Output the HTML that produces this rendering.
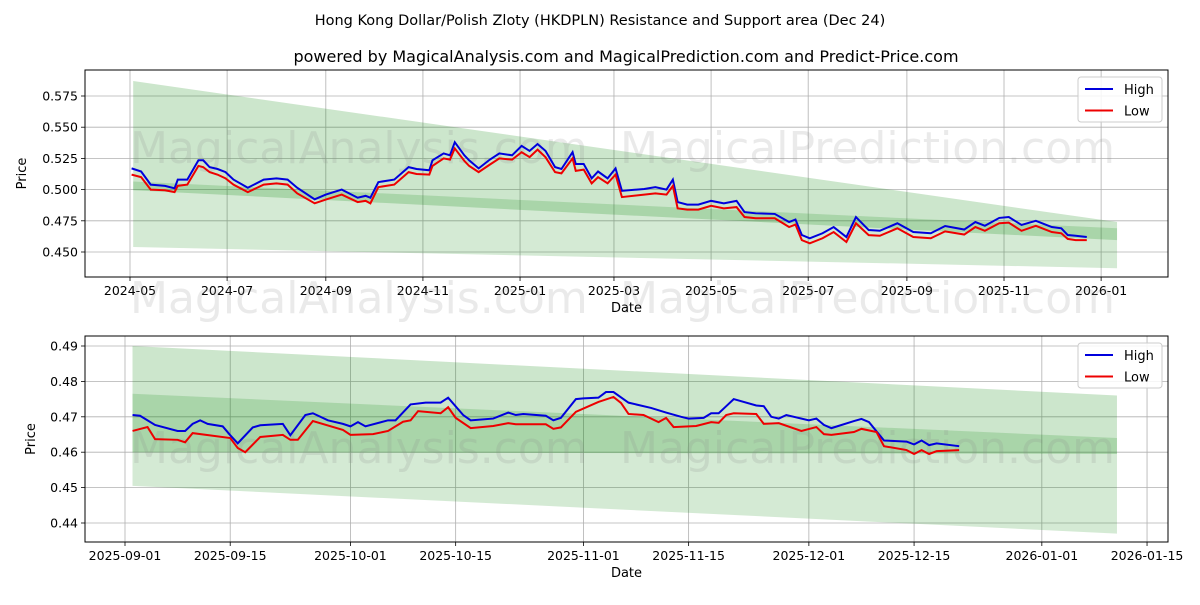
<!DOCTYPE html>
<html><head><meta charset="utf-8"><style>
body{margin:0;background:#fff}
svg text{font-family:"DejaVu Sans","Liberation Sans",sans-serif}
</style></head><body>
<svg id="c" width="1200" height="600" xmlns="http://www.w3.org/2000/svg">
<rect width="1200" height="600" fill="#fff"/>
<text x="600" y="25" text-anchor="middle" font-size="14.5">Hong Kong Dollar/Polish Zloty (HKDPLN) Resistance and Support area (Dec 24)</text>
<text x="626" y="62" text-anchor="middle" font-size="16">powered by MagicalAnalysis.com and MagicalPrediction.com and Predict-Price.com</text>
</svg>
<script>
// ---- top chart data (day offsets from 2024-05-01) ----
const topDays=[1,7,13,22,28,30,36,43,46,50,55,60,65,74,84,92,99,105,116,123,133,143,148,151,156,166,175,180,188,190,197,201,204,210,213,219,226,232,240,246,251,256,261,267,271,278,280,285,290,294,300,305,309,323,330,337,341,344,350,357,365,373,381,386,393,405,414,418,422,427,435,442,450,456,464,471,482,492,503,512,524,531,537,546,552,560,569,579,585,589,594,601];
const topHigh=[0.517,0.5145,0.504,0.503,0.501,0.508,0.508,0.5235,0.5235,0.518,0.5165,0.514,0.508,0.5015,0.508,0.509,0.508,0.5015,0.4922,0.496,0.500,0.4935,0.495,0.4935,0.506,0.508,0.518,0.5165,0.5155,0.5235,0.529,0.5275,0.538,0.5275,0.5235,0.517,0.524,0.529,0.5275,0.535,0.531,0.5365,0.531,0.518,0.5165,0.530,0.5205,0.5205,0.509,0.5145,0.509,0.517,0.499,0.5005,0.502,0.500,0.508,0.490,0.488,0.488,0.491,0.489,0.491,0.482,0.481,0.4805,0.474,0.476,0.4636,0.461,0.465,0.470,0.462,0.478,0.4676,0.467,0.473,0.466,0.465,0.4708,0.468,0.474,0.471,0.4773,0.478,0.4717,0.475,0.470,0.469,0.4636,0.463,0.462];
const topLow=[0.512,0.510,0.500,0.4995,0.498,0.503,0.504,0.519,0.518,0.514,0.512,0.509,0.504,0.498,0.504,0.505,0.504,0.497,0.489,0.492,0.496,0.490,0.491,0.489,0.502,0.504,0.514,0.5125,0.512,0.519,0.525,0.524,0.533,0.523,0.519,0.514,0.520,0.525,0.524,0.530,0.526,0.532,0.526,0.514,0.513,0.525,0.515,0.516,0.505,0.510,0.505,0.512,0.494,0.496,0.497,0.496,0.503,0.485,0.484,0.484,0.487,0.485,0.486,0.478,0.477,0.477,0.470,0.472,0.4595,0.457,0.461,0.466,0.458,0.473,0.4635,0.463,0.469,0.462,0.461,0.4665,0.464,0.470,0.467,0.473,0.4735,0.467,0.471,0.466,0.465,0.4605,0.4595,0.4595];
const topTicks=["2024-05","2024-07","2024-09","2024-11","2025-01","2025-03","2025-05","2025-07","2025-09","2025-11","2026-01"];
const topTickDays=[0,61,123,184,245,304,365,426,488,549,610];
const topYTicks=[0.450,0.475,0.500,0.525,0.550,0.575];
const topBandDays=[2,620];
const topBand1Top=[0.587,0.474], topBand1Bot=[0.4995,0.4595];
const topBand2Top=[0.5065,0.469], topBand2Bot=[0.454,0.437];
// ---- bottom chart data (day offsets from 2025-09-01) ----
const botHighDays=[1,2,4,7,8,9,10,11,13,14,15,17,18,21,22,24,25,27,29,30,31,32,35,36,38,40,42,43,45,46,49,51,52,53,56,57,58,60,61,63,64,65,67,70,72,74,75,77,78,79,80,81,84,85,86,87,88,91,92,93,94,97,98,99,101,104,105,106,107,108,111];
const botHigh=[0.4705,0.4703,0.4677,0.466,0.466,0.468,0.469,0.468,0.4673,0.4648,0.4625,0.467,0.4676,0.468,0.4648,0.4705,0.471,0.469,0.468,0.4673,0.4685,0.4673,0.469,0.469,0.4735,0.474,0.474,0.4754,0.4705,0.469,0.4695,0.4712,0.4705,0.4708,0.4703,0.469,0.4697,0.475,0.4752,0.4754,0.477,0.477,0.474,0.4725,0.4712,0.470,0.4695,0.4697,0.471,0.471,0.473,0.475,0.4732,0.473,0.470,0.4695,0.4705,0.469,0.4695,0.4677,0.4668,0.4688,0.4694,0.4685,0.4633,0.463,0.4622,0.4633,0.462,0.4625,0.4617];
const botLowDays=[1,3,4,7,8,9,14,15,16,18,21,22,23,25,29,30,33,35,37,38,39,42,43,44,46,49,51,52,56,57,58,60,63,65,66,67,69,71,72,73,76,78,79,80,81,84,85,87,90,92,93,94,97,98,100,101,104,105,106,107,108,111];
const botLow=[0.466,0.4671,0.4637,0.4635,0.4628,0.4654,0.464,0.4612,0.460,0.4643,0.4649,0.4635,0.4635,0.4688,0.4663,0.4649,0.4651,0.466,0.4686,0.469,0.4716,0.471,0.4727,0.4697,0.4668,0.4674,0.4682,0.4679,0.4679,0.4666,0.467,0.4714,0.4742,0.4756,0.4739,0.4708,0.4705,0.4685,0.4697,0.4671,0.4674,0.4685,0.4683,0.4705,0.471,0.4708,0.468,0.4682,0.466,0.4671,0.4651,0.4649,0.4657,0.4666,0.4657,0.4617,0.4606,0.4595,0.4606,0.4595,0.4603,0.4606];
const botTicks=["2025-09-01","2025-09-15","2025-10-01","2025-10-15","2025-11-01","2025-11-15","2025-12-01","2025-12-15","2026-01-01","2026-01-15"];
const botTickDays=[0,14,30,44,61,75,91,105,122,136];
const botYTicks=[0.44,0.45,0.46,0.47,0.48,0.49];
const botBandDays=[1,132];
const botBand1Top=[0.490,0.476], botBand1Bot=[0.460,0.4595];
const botBand2Top=[0.4765,0.464], botBand2Bot=[0.4505,0.437];

const svg=document.getElementById('c');
const NS='http://www.w3.org/2000/svg';
function mk(tag,attrs,parent){const e=document.createElementNS(NS,tag);for(const k in attrs)e.setAttribute(k,attrs[k]);(parent||svg).appendChild(e);return e;}

function panel(cfg){
  const {L,R,T,B,xs,ys,name}=cfg;
  const g=mk('g',{});
  
  
  cfg.tickDays.forEach((d,i)=>{
    const x=xs(d);
    const gl=mk('line',{x1:x,x2:x,y1:T,y2:B,stroke:'#b0b0b0','stroke-width':0.8},g);
    
    
    mk('line',{x1:x,x2:x,y1:B,y2:B+4,stroke:'#000','stroke-width':0.8},g);
    const t=mk('text',{x:x,y:B+18,'text-anchor':'middle','font-size':12.5},g);
    t.textContent=cfg.ticks[i];
    
    
  });
  cfg.yTicks.forEach(v=>{
    const y=ys(v);
    const gl=mk('line',{x1:L,x2:R,y1:y,y2:y,stroke:'#b0b0b0','stroke-width':0.8},g);
    
    
    mk('line',{x1:L-4,x2:L,y1:y,y2:y,stroke:'#000','stroke-width':0.8},g);
    const t=mk('text',{x:L-7,y:y+4.5,'text-anchor':'end','font-size':12.5},g);
    t.textContent=v.toFixed(cfg.dec);
    
    
  });
  [[cfg.b1t,cfg.b1b,0.2],[cfg.b2t,cfg.b2b,0.17]].forEach(([tp,bt,op],k)=>{
    const d=cfg.bandDays;
    const pts=[[xs(d[0]),ys(tp[0])],[xs(d[1]),ys(tp[1])],[xs(d[1]),ys(bt[1])],[xs(d[0]),ys(bt[0])]];
    const p=mk('polygon',{points:pts.map(p=>p.join(',')).join(' '),fill:'green','fill-opacity':op},g);
    
    
  });
  cfg.wm.forEach(w=>{
    const t=mk('text',{x:w[0],y:w[1],'font-size':44,fill:'#888','fill-opacity':0.18},g);
    t.textContent=w[2];
    
    
  });
  const hp=mk('polyline',{points:cfg.hDays.map((d,i)=>xs(d)+','+ys(cfg.high[i])).join(' '),fill:'none',stroke:'#0000dd','stroke-width':2},g);
  
  
  const lp=mk('polyline',{points:cfg.lDays.map((d,i)=>xs(d)+','+ys(cfg.low[i])).join(' '),fill:'none',stroke:'#ee0000','stroke-width':2},g);
  
  
  mk('rect',{x:L,y:T,width:R-L,height:B-T,fill:'none',stroke:'#000','stroke-width':1},g);
  const xt=mk('text',{x:(L+R)/2,y:B+35,'text-anchor':'middle','font-size':13},g);
  xt.textContent='Date';
  
  
  const yt=mk('text',{x:0,y:0,'text-anchor':'middle','font-size':13,transform:`translate(${cfg.yTitleX},${(T+B)/2}) rotate(-90)`},g);
  yt.textContent='Price';
  
  
  const lg=mk('g',{},g);
  
  
  const ly=T+7;
  mk('rect',{x:1078,y:ly,width:84,height:45,rx:3,fill:'#fff','fill-opacity':0.85,stroke:'#ccc'},lg);
  [['High','#0000dd'],['Low','#ee0000']].forEach((e,i)=>{
    const y=ly+12+i*21.5;
    const en=mk('g',{},lg);
    
    
    mk('line',{x1:1085,x2:1113,y1:y,y2:y,stroke:e[1],'stroke-width':2},en);
    const t=mk('text',{x:1124,y:y+5,'font-size':13},en);
    t.textContent=e[0];
  });
}

const tXs=d=>130+d*1.592, tYs=v=>96+(0.575-v)*1248;
panel({name:'top-chart',L:85,R:1168,T:70,B:277,xs:tXs,ys:tYs,tickDays:topTickDays,ticks:topTicks,yTicks:topYTicks,dec:3,
  bandDays:topBandDays,b1t:topBand1Top,b1b:topBand1Bot,b2t:topBand2Top,b2b:topBand2Bot,
  hDays:topDays,high:topHigh,lDays:topDays,low:topLow,yTitleX:26,
  wm:[[130,163,'MagicalAnalysis.com'],[620,163,'MagicalPrediction.com'],[130,313,'MagicalAnalysis.com'],[620,313,'MagicalPrediction.com']]});
const bXs=d=>125+d*7.515, bYs=v=>346+(0.49-v)*3540;
panel({name:'bottom-chart',L:85,R:1168,T:336,B:542,xs:bXs,ys:bYs,tickDays:botTickDays,ticks:botTicks,yTicks:botYTicks,dec:2,
  bandDays:botBandDays,b1t:botBand1Top,b1b:botBand1Bot,b2t:botBand2Top,b2b:botBand2Bot,
  hDays:botHighDays,high:botHigh,lDays:botLowDays,low:botLow,yTitleX:35,
  wm:[[130,463,'MagicalAnalysis.com'],[620,463,'MagicalPrediction.com']]});
</script>
</body></html>
